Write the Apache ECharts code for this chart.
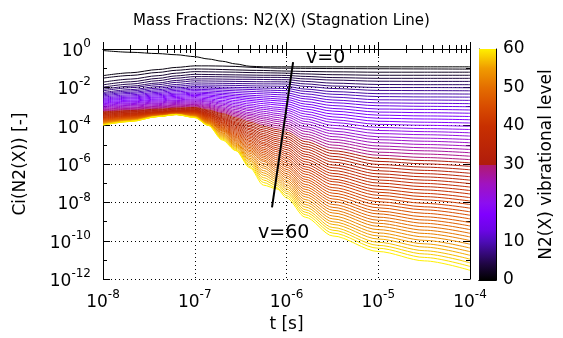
<!DOCTYPE html>
<html>
<head>
<meta charset="utf-8">
<script src="https://cdn.jsdelivr.net/npm/echarts@6/dist/echarts.min.js"></script>
<style>
  html, body { margin: 0; padding: 0; background: #fff; }
  #chart { width: 563px; height: 338px; }
</style>
</head>
<body>
<div id="chart"></div>
<script>
// time grid of the stored curves [s]
var times = [1e-8, 2e-8, 4e-8, 6.3e-8, 1e-7, 1.4e-7, 2e-7, 2.8e-7, 4e-7, 5.6e-7, 7.9e-7, 1e-6, 1.6e-6, 3.2e-6, 1e-5, 3.2e-5, 1e-4];

// log10 of Ci(N2(X)) for each vibrational level
var v0 = [-0.08,-0.17,-0.24,-0.30,-0.40,-0.52,-0.64,-0.78,-0.90,-0.93,-0.93,-0.93,-0.93,-0.93,-0.93,-0.93,-0.93];
var v1 = [-1.39,-1.24,-1.07,-0.96,-0.88,-0.88,-0.89,-0.91,-0.95,-0.98,-1.00,-1.00,-1.01,-1.02,-1.03,-1.04,-1.05];
var v2 = [-1.52,-1.38,-1.22,-1.11,-1.04,-1.05,-1.07,-1.09,-1.11,-1.12,-1.14,-1.15,-1.17,-1.19,-1.21,-1.21,-1.21];
var v3 = [-1.73,-1.57,-1.39,-1.26,-1.18,-1.19,-1.20,-1.21,-1.23,-1.24,-1.25,-1.26,-1.30,-1.34,-1.37,-1.37,-1.37];
var v4 = [-1.87,-1.71,-1.53,-1.40,-1.32,-1.33,-1.34,-1.35,-1.36,-1.37,-1.37,-1.38,-1.43,-1.49,-1.53,-1.53,-1.53];
var v5 = [-1.99,-1.83,-1.65,-1.52,-1.44,-1.44,-1.45,-1.46,-1.47,-1.48,-1.48,-1.49,-1.56,-1.62,-1.68,-1.69,-1.69];
var v6 = [-2.10,-1.94,-1.77,-1.64,-1.56,-1.56,-1.57,-1.58,-1.58,-1.59,-1.60,-1.60,-1.69,-1.78,-1.85,-1.86,-1.86];
var v7 = [-2.18,-2.02,-1.86,-1.74,-1.66,-1.67,-1.68,-1.69,-1.70,-1.71,-1.71,-1.72,-1.82,-1.93,-2.01,-2.01,-2.02];
var v8 = [-2.27,-2.12,-1.96,-1.85,-1.77,-1.78,-1.79,-1.80,-1.81,-1.82,-1.82,-1.83,-1.95,-2.06,-2.16,-2.17,-2.18];
var v9 = [-2.33,-2.19,-2.04,-1.94,-1.87,-1.88,-1.89,-1.90,-1.92,-1.93,-1.94,-1.95,-2.09,-2.22,-2.33,-2.34,-2.35];
var v10 = [-2.39,-2.26,-2.12,-2.02,-1.96,-1.97,-1.99,-2.00,-2.02,-2.04,-2.05,-2.06,-2.21,-2.36,-2.48,-2.50,-2.51];
var v11 = [-2.45,-2.32,-2.19,-2.09,-2.03,-2.04,-2.07,-2.09,-2.11,-2.14,-2.16,-2.17,-2.34,-2.51,-2.65,-2.66,-2.68];
var v12 = [-2.51,-2.39,-2.26,-2.16,-2.10,-2.12,-2.15,-2.18,-2.21,-2.24,-2.27,-2.29,-2.48,-2.66,-2.81,-2.83,-2.85];
var v13 = [-2.57,-2.45,-2.32,-2.23,-2.17,-2.19,-2.23,-2.27,-2.31,-2.34,-2.38,-2.40,-2.60,-2.80,-2.96,-2.99,-3.01];
var v14 = [-2.62,-2.51,-2.38,-2.30,-2.24,-2.27,-2.31,-2.36,-2.41,-2.45,-2.49,-2.52,-2.74,-2.95,-3.13,-3.15,-3.18];
var v15 = [-2.67,-2.56,-2.44,-2.36,-2.30,-2.33,-2.38,-2.44,-2.50,-2.55,-2.60,-2.63,-2.87,-3.10,-3.29,-3.32,-3.35];
var v16 = [-2.72,-2.61,-2.50,-2.41,-2.36,-2.40,-2.46,-2.52,-2.59,-2.65,-2.70,-2.74,-3.00,-3.24,-3.45,-3.49,-3.52];
var v17 = [-2.77,-2.67,-2.55,-2.47,-2.42,-2.46,-2.53,-2.60,-2.68,-2.75,-2.82,-2.86,-3.13,-3.39,-3.61,-3.65,-3.69];
var v18 = [-2.82,-2.72,-2.61,-2.53,-2.48,-2.53,-2.60,-2.69,-2.77,-2.85,-2.92,-2.97,-3.26,-3.54,-3.77,-3.82,-3.86];
var v19 = [-2.86,-2.76,-2.66,-2.59,-2.54,-2.60,-2.68,-2.77,-2.87,-2.96,-3.04,-3.09,-3.39,-3.69,-3.93,-3.98,-4.03];
var v20 = [-2.90,-2.81,-2.71,-2.65,-2.60,-2.66,-2.75,-2.85,-2.96,-3.06,-3.14,-3.20,-3.52,-3.83,-4.09,-4.15,-4.20];
var v21 = [-2.94,-2.85,-2.76,-2.69,-2.65,-2.72,-2.82,-2.93,-3.05,-3.15,-3.24,-3.31,-3.65,-3.98,-4.25,-4.31,-4.37];
var v22 = [-2.98,-2.90,-2.81,-2.74,-2.70,-2.77,-2.88,-3.01,-3.14,-3.25,-3.36,-3.43,-3.78,-4.13,-4.41,-4.47,-4.54];
var v23 = [-3.02,-2.94,-2.85,-2.79,-2.75,-2.83,-2.95,-3.08,-3.22,-3.35,-3.46,-3.54,-3.91,-4.28,-4.58,-4.65,-4.72];
var v24 = [-3.06,-2.98,-2.90,-2.84,-2.80,-2.89,-3.02,-3.16,-3.32,-3.45,-3.57,-3.66,-4.05,-4.42,-4.73,-4.81,-4.89];
var v25 = [-3.10,-3.03,-2.95,-2.89,-2.85,-2.94,-3.08,-3.24,-3.40,-3.55,-3.68,-3.77,-4.17,-4.57,-4.89,-4.98,-5.06];
var v26 = [-3.14,-3.07,-2.99,-2.93,-2.89,-2.99,-3.14,-3.31,-3.48,-3.64,-3.78,-3.88,-4.30,-4.72,-5.06,-5.15,-5.24];
var v27 = [-3.17,-3.10,-3.02,-2.97,-2.93,-3.04,-3.20,-3.38,-3.57,-3.74,-3.89,-4.00,-4.44,-4.86,-5.21,-5.31,-5.41];
var v28 = [-3.21,-3.14,-3.06,-3.01,-2.97,-3.08,-3.26,-3.45,-3.65,-3.84,-4.00,-4.11,-4.57,-5.01,-5.38,-5.48,-5.59];
var v29 = [-3.24,-3.17,-3.10,-3.04,-3.01,-3.13,-3.32,-3.52,-3.74,-3.94,-4.11,-4.23,-4.70,-5.16,-5.54,-5.66,-5.77];
var v30 = [-3.28,-3.21,-3.14,-3.08,-3.05,-3.18,-3.37,-3.59,-3.82,-4.03,-4.21,-4.34,-4.83,-5.31,-5.70,-5.82,-5.94];
var v31 = [-3.31,-3.24,-3.17,-3.11,-3.08,-3.22,-3.42,-3.66,-3.90,-4.12,-4.31,-4.45,-4.96,-5.45,-5.86,-5.99,-6.12];
var v32 = [-3.34,-3.27,-3.20,-3.14,-3.11,-3.26,-3.48,-3.72,-3.99,-4.22,-4.42,-4.57,-5.09,-5.60,-6.02,-6.16,-6.30];
var v33 = [-3.37,-3.30,-3.23,-3.17,-3.14,-3.29,-3.53,-3.79,-4.06,-4.31,-4.53,-4.68,-5.22,-5.75,-6.18,-6.33,-6.48];
var v34 = [-3.40,-3.33,-3.26,-3.20,-3.17,-3.33,-3.58,-3.85,-4.15,-4.41,-4.64,-4.80,-5.36,-5.90,-6.35,-6.50,-6.66];
var v35 = [-3.43,-3.36,-3.28,-3.23,-3.19,-3.36,-3.62,-3.91,-4.22,-4.50,-4.74,-4.91,-5.49,-6.05,-6.51,-6.67,-6.84];
var v36 = [-3.46,-3.38,-3.30,-3.24,-3.21,-3.39,-3.66,-3.97,-4.30,-4.59,-4.84,-5.02,-5.61,-6.19,-6.67,-6.84,-7.02];
var v37 = [-3.49,-3.41,-3.31,-3.25,-3.23,-3.42,-3.71,-4.03,-4.38,-4.68,-4.95,-5.14,-5.75,-6.34,-6.83,-7.01,-7.20];
var v38 = [-3.52,-3.43,-3.33,-3.26,-3.25,-3.45,-3.75,-4.09,-4.45,-4.77,-5.05,-5.25,-5.88,-6.49,-6.99,-7.18,-7.38];
var v39 = [-3.55,-3.46,-3.34,-3.28,-3.27,-3.48,-3.80,-4.15,-4.53,-4.87,-5.16,-5.37,-6.01,-6.63,-7.15,-7.35,-7.56];
var v40 = [-3.58,-3.48,-3.36,-3.29,-3.29,-3.51,-3.84,-4.21,-4.60,-4.95,-5.26,-5.48,-6.14,-6.79,-7.32,-7.53,-7.75];
var v41 = [-3.61,-3.50,-3.37,-3.30,-3.31,-3.54,-3.88,-4.27,-4.68,-5.04,-5.36,-5.59,-6.27,-6.92,-7.47,-7.70,-7.93];
var v42 = [-3.63,-3.52,-3.39,-3.31,-3.33,-3.57,-3.93,-4.33,-4.76,-5.14,-5.47,-5.71,-6.40,-7.07,-7.63,-7.87,-8.11];
var v43 = [-3.66,-3.55,-3.40,-3.33,-3.35,-3.60,-3.97,-4.39,-4.83,-5.23,-5.57,-5.82,-6.53,-7.23,-7.80,-8.05,-8.30];
var v44 = [-3.68,-3.56,-3.41,-3.34,-3.37,-3.63,-4.01,-4.45,-4.91,-5.32,-5.68,-5.94,-6.67,-7.37,-7.96,-8.23,-8.49];
var v45 = [-3.71,-3.59,-3.43,-3.35,-3.39,-3.66,-4.06,-4.51,-4.99,-5.41,-5.78,-6.05,-6.80,-7.52,-8.12,-8.39,-8.67];
var v46 = [-3.73,-3.60,-3.44,-3.36,-3.41,-3.69,-4.10,-4.57,-5.06,-5.50,-5.89,-6.16,-6.92,-7.67,-8.28,-8.57,-8.86];
var v47 = [-3.75,-3.62,-3.44,-3.36,-3.42,-3.71,-4.14,-4.62,-5.14,-5.59,-6.00,-6.28,-7.06,-7.82,-8.45,-8.75,-9.05];
var v48 = [-3.77,-3.64,-3.46,-3.38,-3.44,-3.74,-4.18,-4.68,-5.21,-5.68,-6.10,-6.39,-7.19,-7.96,-8.60,-8.92,-9.23];
var v49 = [-3.79,-3.65,-3.46,-3.38,-3.45,-3.76,-4.22,-4.74,-5.29,-5.78,-6.20,-6.51,-7.32,-8.11,-8.77,-9.09,-9.42];
var v50 = [-3.81,-3.67,-3.47,-3.39,-3.47,-3.79,-4.26,-4.79,-5.36,-5.86,-6.31,-6.62,-7.45,-8.26,-8.93,-9.27,-9.61];
var v51 = [-3.83,-3.68,-3.48,-3.39,-3.48,-3.81,-4.30,-4.85,-5.44,-5.98,-6.41,-6.73,-7.58,-8.41,-9.09,-9.45,-9.80];
var v52 = [-3.85,-3.70,-3.49,-3.40,-3.50,-3.84,-4.36,-4.91,-5.53,-6.10,-6.52,-6.85,-7.71,-8.55,-9.25,-9.62,-9.99];
var v53 = [-3.87,-3.71,-3.50,-3.41,-3.51,-3.86,-4.40,-4.96,-5.61,-6.21,-6.62,-6.96,-7.85,-8.71,-9.42,-9.80,-10.18];
var v54 = [-3.88,-3.72,-3.50,-3.41,-3.52,-3.88,-4.45,-5.02,-5.70,-6.34,-6.72,-7.08,-7.98,-8.86,-9.59,-9.98,-10.38];
var v55 = [-3.90,-3.73,-3.50,-3.41,-3.53,-3.90,-4.50,-5.07,-5.78,-6.46,-6.82,-7.19,-8.11,-9.01,-9.75,-10.16,-10.57];
var v56 = [-3.92,-3.75,-3.51,-3.41,-3.54,-3.92,-4.55,-5.12,-5.86,-6.58,-6.92,-7.30,-8.24,-9.15,-9.91,-10.33,-10.76];
var v57 = [-3.93,-3.75,-3.51,-3.41,-3.55,-3.94,-4.60,-5.18,-5.95,-6.71,-7.03,-7.42,-8.38,-9.31,-10.08,-10.52,-10.96];
var v58 = [-3.95,-3.77,-3.52,-3.42,-3.56,-3.96,-4.65,-5.23,-6.04,-6.83,-7.13,-7.53,-8.51,-9.45,-10.24,-10.69,-11.15];
var v59 = [-3.96,-3.78,-3.52,-3.42,-3.57,-3.98,-4.70,-5.28,-6.13,-6.96,-7.24,-7.65,-8.64,-9.60,-10.39,-10.87,-11.34];
var v60 = [-3.97,-3.78,-3.52,-3.42,-3.58,-3.98,-4.75,-5.30,-6.20,-7.10,-7.30,-7.76,-8.77,-9.75,-10.56,-11.05,-11.54];

var levels = [v0, v1, v2, v3, v4, v5, v6, v7, v8, v9, v10, v11, v12, v13, v14, v15, v16, v17, v18, v19, v20,
  v21, v22, v23, v24, v25, v26, v27, v28, v29, v30, v31, v32, v33, v34, v35, v36, v37, v38, v39, v40,
  v41, v42, v43, v44, v45, v46, v47, v48, v49, v50, v51, v52, v53, v54, v55, v56, v57, v58, v59, v60];

// the black v=60 -> v=0 marker line (t, log10 Ci)
var arrowT = [6.95e-7, 1.18e-6];
var arrowC = [-8.26, -0.68];

// colour palette of the vibrational level
var paletteStops = [
  [0, '#000000'], [4, '#1e0640'], [10, '#4e0cb8'], [13, '#6c05e6'], [17, '#8000ff'], [20, '#8c0ef0'],
  [25, '#a013c0'], [29.9, '#b01a70'], [30, '#b01c0c'], [40, '#c83000'], [45, '#d84c00'],
  [50, '#e46e00'], [55, '#f09c00'], [60, '#fff000']
];

var FONT = 'DejaVu Sans';

function hexRgb(h) {
  return [parseInt(h.substr(1, 2), 16), parseInt(h.substr(3, 2), 16), parseInt(h.substr(5, 2), 16)];
}
function colorAt(v) {
  for (var i = 1; i < paletteStops.length; i++) {
    var a = paletteStops[i - 1], b = paletteStops[i];
    if (v <= b[0]) {
      var f = (v - a[0]) / (b[0] - a[0]);
      var ca = hexRgb(a[1]), cb = hexRgb(b[1]);
      return 'rgb(' + Math.round(ca[0] + (cb[0] - ca[0]) * f) + ',' +
        Math.round(ca[1] + (cb[1] - ca[1]) * f) + ',' +
        Math.round(ca[2] + (cb[2] - ca[2]) * f) + ')';
    }
  }
  return paletteStops[paletteStops.length - 1][1];
}

function powLabel(e) {
  return '{b|10}{s|' + e + '}';
}

var rich = {
  b: { fontSize: 17, fontFamily: FONT, color: '#000', verticalAlign: 'bottom', lineHeight: 22 },
  s: { fontSize: 12, fontFamily: FONT, color: '#000', verticalAlign: 'top', lineHeight: 22 }
};

var blackLine = { show: true, lineStyle: { color: '#000', width: 1 } };
var dotted = { show: true, lineStyle: { color: '#000', width: 1, type: [1, 3] } };

var chart = echarts.init(document.getElementById('chart'));

var series = levels.map(function (vals, v) {
  return {
    type: 'line',
    xAxisIndex: 0,
    yAxisIndex: 0,
    data: times.map(function (t, i) { return [t, vals[i]]; }),
    symbol: 'none',
    smooth: 0.3,
    smoothMonotone: 'x',
    lineStyle: { width: 1, color: colorAt(v) },
    silent: true,
    z: 2
  };
});

series.push({
  type: 'line',
  xAxisIndex: 0,
  yAxisIndex: 0,
  data: [[arrowT[0], arrowC[0]], [arrowT[1], arrowC[1]]],
  symbol: 'none',
  lineStyle: { color: '#000', width: 2 },
  silent: true,
  z: 5
});

series.push({
  type: 'bar',
  xAxisIndex: 2,
  yAxisIndex: 2,
  data: [60],
  barWidth: '100%',
  silent: true,
  itemStyle: {
    color: new echarts.graphic.LinearGradient(0, 1, 0, 0, paletteStops.map(function (s) {
      return { offset: s[0] / 60, color: s[1] };
    }))
  }
});

var option = {
  animation: false,
  backgroundColor: '#fff',
  title: {
    text: 'Mass Fractions: N2(X) (Stagnation Line)',
    left: 'center',
    top: 9,
    textStyle: { fontFamily: FONT, fontSize: 15, fontWeight: 'normal', color: '#000' }
  },
  grid: [
    { left: 103, top: 49, width: 367, height: 231 },
    { left: 479, top: 49, width: 17, height: 231 }
  ],
  xAxis: [
    {
      gridIndex: 0, type: 'log', logBase: 10, min: 1e-8, max: 1e-4, position: 'bottom',
      axisLine: blackLine,
      axisTick: { inside: true, length: 7, lineStyle: { color: '#000' } },
      minorTick: { show: true, splitNumber: 9, length: 4, lineStyle: { color: '#000' } },
      splitLine: dotted,
      axisLabel: { margin: 10, formatter: function (val) { return powLabel(Math.round(Math.log(val) / Math.LN10)); }, rich: rich },
      name: 't [s]', nameLocation: 'middle', nameGap: 36,
      nameTextStyle: { fontFamily: FONT, fontSize: 17, color: '#000' }
    },
    {
      gridIndex: 0, type: 'log', logBase: 10, min: 1e-8, max: 1e-4, position: 'top',
      axisLine: blackLine,
      axisTick: { inside: true, length: 7, lineStyle: { color: '#000' } },
      minorTick: { show: true, splitNumber: 9, length: 4, lineStyle: { color: '#000' } },
      splitLine: { show: false },
      axisLabel: { show: false }
    },
    {
      gridIndex: 1, type: 'category', data: ['cb'], position: 'bottom',
      axisLine: blackLine, axisTick: { show: false }, axisLabel: { show: false }
    },
    {
      gridIndex: 1, type: 'category', data: ['cb'], position: 'top',
      axisLine: blackLine, axisTick: { show: false }, axisLabel: { show: false }
    }
  ],
  yAxis: [
    {
      gridIndex: 0, type: 'value', min: -12, max: 0, interval: 2, position: 'left',
      axisLine: blackLine,
      axisTick: { inside: true, length: 7, lineStyle: { color: '#000' } },
      minorTick: { show: true, splitNumber: 2, length: 4, lineStyle: { color: '#000' } },
      splitLine: dotted,
      axisLabel: { margin: 12, formatter: function (val) { return powLabel(val); }, rich: rich },
      name: 'Ci(N2(X)) [-]', nameLocation: 'middle', nameGap: 74, nameRotate: 90,
      nameTextStyle: { fontFamily: FONT, fontSize: 17, color: '#000' }
    },
    {
      gridIndex: 0, type: 'value', min: -12, max: 0, interval: 2, position: 'right',
      axisLine: blackLine,
      axisTick: { inside: true, length: 7, lineStyle: { color: '#000' } },
      minorTick: { show: true, splitNumber: 2, length: 4, lineStyle: { color: '#000' } },
      splitLine: { show: false },
      axisLabel: { show: false }
    },
    {
      gridIndex: 1, type: 'value', min: 0, max: 60, interval: 10, position: 'right',
      axisLine: blackLine,
      axisTick: { inside: true, length: 5, lineStyle: { color: '#000' } },
      splitLine: { show: false },
      axisLabel: { margin: 7, fontFamily: FONT, fontSize: 17, color: '#000' },
      name: 'N2(X) vibrational level', nameLocation: 'middle', nameGap: 42, nameRotate: 90,
      nameTextStyle: { fontFamily: FONT, fontSize: 17, color: '#000' }
    },
    {
      gridIndex: 1, type: 'value', min: 0, max: 60, interval: 10, position: 'left',
      axisLine: blackLine,
      axisTick: { inside: true, length: 5, lineStyle: { color: '#000' } },
      splitLine: { show: false },
      axisLabel: { show: false }
    }
  ],
  graphic: [
    { type: 'text', left: 306, top: 49, style: { text: 'v=0', font: '19px "DejaVu Sans"', fill: '#000' }, z: 10 },
    { type: 'text', left: 258, top: 224, style: { text: 'v=60', font: '19px "DejaVu Sans"', fill: '#000' }, z: 10 }
  ],
  series: series
};

chart.setOption(option);
</script>
</body>
</html>
